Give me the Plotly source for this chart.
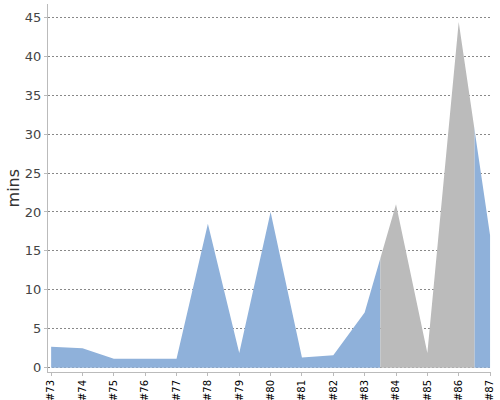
import plotly.graph_objects as go

categories = ["#73", "#74", "#75", "#76", "#77", "#78", "#79", "#80",
              "#81", "#82", "#83", "#84", "#85", "#86", "#87"]
values = [2.7, 2.5, 1.15, 1.15, 1.15, 18.5, 1.9, 20.0,
          1.3, 1.6, 7.1, 21.0, 1.9, 44.4, 17.0]
highlight_band = [10.5, 13.5]  # index positions between #83/#84 and #86/#87
y_tick_values = [0, 5, 10, 15, 20, 25, 30, 35, 40, 45]

blue = "#8FB1DA"
gray = "#BBBBBB"

x_range = [-0.1, 14.03]
span = x_range[1] - x_range[0]
dom2 = [(highlight_band[0] - x_range[0]) / span, (highlight_band[1] - x_range[0]) / span]

fig = go.Figure()
fig.add_trace(go.Scatter(x=categories, y=values, mode="lines", fill="tozeroy",
                         line=dict(width=0, color=blue), fillcolor=blue,
                         hoverinfo="skip", showlegend=False))
fig.add_trace(go.Scatter(x=categories, y=values, mode="lines", fill="tozeroy",
                         line=dict(width=0, color=gray), fillcolor=gray,
                         xaxis="x2", yaxis="y",
                         hoverinfo="skip", showlegend=False))

fig.update_layout(
    width=500, height=400,
    margin=dict(l=48, r=9, t=4, b=28, autoexpand=False),
    paper_bgcolor="white", plot_bgcolor="white",
    font=dict(family="DejaVu Sans", color="#444"),
    xaxis=dict(type="category", categoryorder="array", categoryarray=categories,
               range=x_range, showgrid=False, zeroline=False, automargin=False,
               showline=True, linecolor="#BBBBBB", linewidth=1,
               ticks="outside", ticklen=3, tickcolor="#BBBBBB",
               tickangle=-90, tickfont=dict(size=10, color="#000")),
    xaxis2=dict(type="category", categoryorder="array", categoryarray=categories,
                range=highlight_band, domain=dom2, anchor="y",
                visible=False, showgrid=False, zeroline=False),
    yaxis=dict(range=[-0.55, 46.7], tickvals=y_tick_values, automargin=False,
               showgrid=True, gridcolor="#888", griddash="2px,2px", gridwidth=1,
               zeroline=False, showline=True, linecolor="#BBBBBB", linewidth=1,
               ticks="outside", ticklen=3, tickcolor="#BBBBBB",
               tickfont=dict(size=13, color="#444")),
    annotations=[dict(text="mins", textangle=-90, xref="paper", yref="paper",
                      x=-0.078, y=0.5, xanchor="center", yanchor="middle",
                      showarrow=False, font=dict(size=16, color="#333"))],
)

fig.write_html("out.html", config={"displayModeBar": False},
               post_script="document.body.style.margin='0';")
